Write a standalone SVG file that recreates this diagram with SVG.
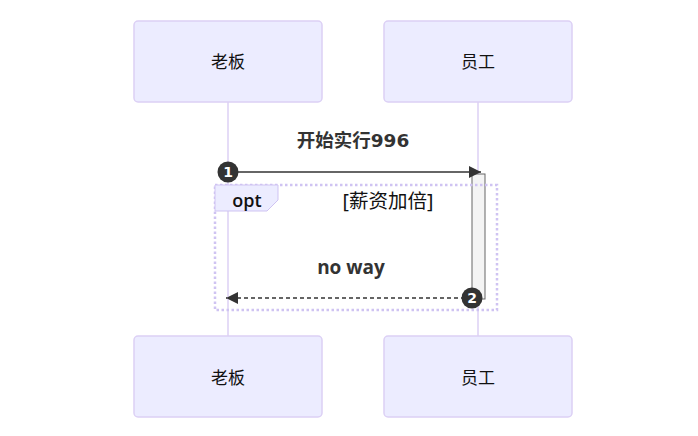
<svg xmlns="http://www.w3.org/2000/svg" width="698" height="436" viewBox="0 0 698 436">
<defs>
<style>
.actor{fill:#ECECFF;stroke:#DCD0F5;stroke-width:1.5}
.atext{font-family:"Noto Sans","Noto Sans CJK SC",sans-serif;font-size:17px;fill:#111;text-anchor:middle;dominant-baseline:central}
.life{stroke:#DCD0F5;stroke-width:1.5}
.msg{font-family:"DejaVu Sans","Noto Sans CJK SC",sans-serif;font-weight:bold;fill:#333;text-anchor:middle}
.num{font-family:"DejaVu Sans",sans-serif;font-size:14px;font-weight:bold;fill:#fff;text-anchor:middle;dominant-baseline:central}
</style>
<marker id="ah" markerWidth="12" markerHeight="12" refX="12" refY="6" orient="auto" markerUnits="userSpaceOnUse">
<path d="M0,0 L12,6 L0,12 z" fill="#333"/>
</marker>
</defs>
<rect width="698" height="436" fill="#fff"/>
<g id="lifelines">
<line class="life" x1="228" y1="102" x2="228" y2="336"/>
<line class="life" x1="478" y1="102" x2="478" y2="336"/>
</g>
<g id="actor-boss-top"><rect class="actor" x="134" y="21" width="188" height="81" rx="4"/><text class="atext" x="228" y="61">老板</text></g>
<g id="actor-emp-top"><rect class="actor" x="384" y="21" width="188" height="81" rx="4"/><text class="atext" x="478" y="61">员工</text></g>
<g id="actor-boss-bottom"><rect class="actor" x="134" y="336" width="188" height="81" rx="4"/><text class="atext" x="228" y="377">老板</text></g>
<g id="actor-emp-bottom"><rect class="actor" x="384" y="336" width="188" height="81" rx="4"/><text class="atext" x="478" y="377">员工</text></g>
<g id="activation"><rect x="472" y="174" width="13" height="125" fill="#F4F4F4" stroke="#666" stroke-width="1"/></g>
<g id="opt">
<rect x="215" y="185" width="282" height="125" fill="none" stroke="#CFC3F2" stroke-width="2.5" stroke-dasharray="2.5,2.5"/>
<polygon points="215,185 278,185 278,200 267,211 215,211" fill="#ECECFF" stroke="#CFC3F2" stroke-width="1"/>
<text x="247" y="207" font-family="'Open Sans','DejaVu Sans',sans-serif" font-size="18" font-weight="600" fill="#111" text-anchor="middle">opt</text>
<text x="388" y="208" font-family="'Noto Sans','Noto Sans CJK SC',sans-serif" font-size="19.5" fill="#111" text-anchor="middle">[薪资加倍]</text>
</g>
<g id="connectors">
<text class="msg" x="353" y="147" font-size="18.5">开始实行996</text>
<line x1="228" y1="172" x2="481" y2="172" stroke="#333" stroke-width="1.5" marker-end="url(#ah)"/>
<text x="351" y="274" font-family="'Open Sans',sans-serif" font-size="19" font-weight="bold" fill="#333" text-anchor="middle">no way</text>
<line x1="472" y1="298" x2="226" y2="298" stroke="#333" stroke-width="1.5" stroke-dasharray="4,3" marker-end="url(#ah)"/>
<circle cx="228" cy="172" r="10.5" fill="#333"/><text class="num" x="228" y="172">1</text>
<circle cx="472" cy="298" r="10.5" fill="#333"/><text class="num" x="472" y="298">2</text>
</g>
</svg>
